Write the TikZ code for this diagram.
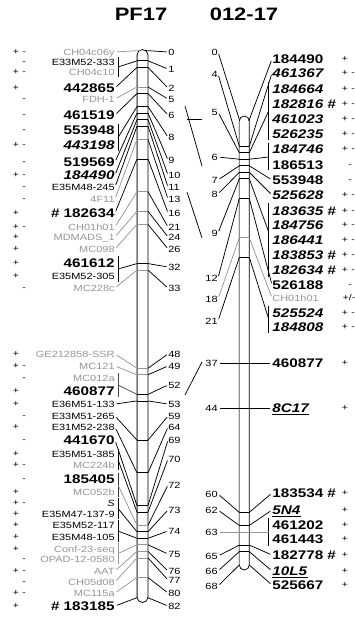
\documentclass[tikz,border=0pt]{standalone}
\usepackage{fontspec}
\setmainfont[FakeStretch=1.22]{Liberation Sans}
\definecolor{mg}{RGB}{150,150,150}
\begin{document}
\begin{tikzpicture}[x=1pt,y=-1pt,line width=0.75pt,
 bl/.style={inner sep=0pt,text height=9pt,text depth=0pt,font=\fontsize{12.5}{13}\selectfont\bfseries},
 bli/.style={bl,font=\fontsize{12.5}{13}\selectfont\bfseries\itshape},
 rl/.style={inner sep=0pt,text height=6.5pt,text depth=0pt,font=\fontsize{9}{10}\selectfont},
 rli/.style={rl,font=\fontsize{9}{10}\selectfont\itshape},
 gl/.style={rl,text=mg},
 num/.style={rl},
 sg/.style={inner sep=0pt,text height=5pt,text depth=0pt,font=\fontsize{8.5}{9}\selectfont},
 ttl/.style={inner sep=0pt,font=\fontsize{18}{20}\selectfont\bfseries},
 ul/.style={line width=1pt}
]
\useasboundingbox (0,0) rectangle (355,617);

% titles
\node[ttl] (tA) at (141,14) {PF17};
\node[ttl] (tB) at (244,14) {012-17};

% ---------------- PF17 bar ----------------
\draw[fill=white] (137,55) arc[start angle=180,end angle=360,radius=5.5] -- (148,597) arc[start angle=0,end angle=180,radius=5.5] -- cycle;
\draw[black!55,line width=1pt] (137,55) -- (137,597);

\foreach \c in {1,2,5,6,8,9,10,11,13,16,21,24,26,32,33,48,49,52,53,59,64,69,70,72,73,74,75,76,77,80}{
  \coordinate (aL\c) at (137,{54.3+6.54*\c});
  \coordinate (aR\c) at (148,{54.3+6.54*\c});
}
\coordinate (aL0) at (140,50.5); \coordinate (aR0) at (145,50.5);
\coordinate (aL82) at (137.5,597.5); \coordinate (aR82) at (147.5,597.5);

\foreach \c in {1,2,6,8,9,10,11,16,32,52,53,59,64,69,70,73,74} \draw (aL\c) -- (aR\c);
\foreach \c in {5,13,21,24,26,33,48,49,72,75,76,77,80} \draw[mg] (aL\c) -- (aR\c);

% left labels
\foreach \y/\t/\st [count=\i] in {52/CH04c06y/gl, 62/E33M52-333/rl, 72/CH04c10/gl, 88/442865/bl, 99/FDH-1/gl,
  115/461519/bl, 130/553948/bl, 145/443198/bli, 162/519569/bl, 175/184490/bli, 187/E35M48-245/rl, 199/4F11/gl,
  213/\# 182634/bl, 227/CH01h01/gl, 237/MDMADS\_1/gl, 249/MC098/gl, 263/461612/bl, 276/E35M52-305/rl, 288/MC228c/gl,
  354/GE212858-SSR/gl, 366/MC121/gl, 378/MC012a/gl, 391/460877/bl, 404/E36M51-133/rl, 416/E33M51-265/rl,
  427/E31M52-238/rl, 440/441670/bl, 454/E35M51-385/rl, 465/MC224b/gl, 479/185405/bl, 492/MC052b/gl, 503/S/rli,
  514/E35M47-137-9/rl, 525/E35M52-117/rl, 537/E35M48-105/rl, 549/Conf-23-seq/gl, 559/OPAD-12-0580/gl,
  571/AAT/gl, 582/CH05d08/gl, 593/MC115a/gl, 606/\# 183185/bl}
  \node[\st,anchor=east] (pl\i) at (115,\y) {\t};

% left leaders
\foreach \i/\c in {4/2,6/6,9/9,10/10,11/11,13/16,24/53,25/59,26/64,27/69,41/82}
  \draw[shorten <=2pt] (pl\i.east) -- (aL\c);
\foreach \i/\c in {1/0,5/5,12/13,14/21,15/24,16/26,19/33,20/48,21/49,38/76,39/77,40/80}
  \draw[mg,shorten <=2pt] (pl\i.east) -- (aL\c);

% left brackets
\foreach \k/\ya/\yb/\c/\bc/\lc in {1/57/77/1/black/black, 2/124/151/8/black/black, 3/256/282/32/black/black,
  4/373/397/52/black!70/black!70, 5/449/470/70/black/black, 6/473/497/72/black!80/mg, 7/498/519/73/black/black,
  8/520/542/74/black/black, 9/543/564/75/mg/mg}{
  \coordinate (kt\k) at (118,\ya);
  \coordinate (kb\k) at (118,\yb);
  \coordinate (km\k) at (118,{(\ya+\yb)/2});
  \draw[\bc] (kt\k) -- (kb\k);
  \draw[\lc] (km\k) -- (aL\c);
}

% right numbers PF17
\foreach \c/\y in {0/52,1/69,2/88,5/99,6/115,8/137,9/160,10/175,11/187,13/199,16/213,21/227,24/237,26/249,
  32/267,33/288,48/354,49/366,52/385,53/404,59/416,64/427,69/440,70/459,72/485,73/510,74/531,75/554,
  76/571,77/580,80/593,82/606}{
  \node[num,anchor=west] (pn\c) at (168,\y) {\c};
  \draw[shorten >=1.5pt] (aR\c) -- (pn\c.west);
}

% left signs
\foreach \y [count=\i] in {52,72,88,145,175,213,227,237,249,263,276,354,366,391,404,427,454,465,492,503,514,525,537,549,571,593,606}
  \node[sg] (spL\i) at (16,\y) {+};
\foreach \y [count=\i] in {52,62,72,99,115,130,145,162,175,187,199,227,288,366,378,416,440,465,479,503,559,571,582,593}
  \node[sg] (smL\i) at (24,\y) {-};

% ---------------- 012-17 bar ----------------
\draw[fill=white] (239.3,121) arc[start angle=180,end angle=360,radius=5] -- (249.3,565) arc[start angle=0,end angle=180,radius=5] -- cycle;
\draw[black!45,line width=1.4pt] (239.3,121) -- (239.3,565);

\foreach \c in {4,5,6,7,8,9,12,18,21,37,44,60,62,63,65,66}{
  \coordinate (bL\c) at (239.3,{120+6.54*\c});
  \coordinate (bR\c) at (249.3,{120+6.54*\c});
}
\coordinate (bL0) at (239.8,121); \coordinate (bR0) at (248.8,121);
\coordinate (bL68) at (239.3,565); \coordinate (bR68) at (249.3,565);

\foreach \c in {4,5,6,7,8,9,12,21,60,62,65,66} \draw (bL\c) -- (bR\c);
\draw[mg] (bL18) -- (bR18);

% left numbers 012-17
\foreach \c/\y in {0/52,4/74,5/112,6/157,7/180,8/194,9/233,12/278,18/299,21/321,37/363,44/408,60/494,62/510,63/532,65/556,66/571,68/586}
  \node[num,anchor=east] (qn\c) at (218,\y) {\c};
\foreach \c in {0,4,5,6,7,8,9,12,21,60,62,65,66,68}
  \draw[shorten <=2pt] (qn\c.east) -- (bL\c);
\draw[mg,shorten <=2pt] (qn18.east) -- (bL18);

% right labels 012-17
\foreach \y/\t/\st [count=\i] in {59/184490/bl, 73/461367/bli, 89/184664/bli, 104/182816 \#/bli, 119/461023/bli,
  134/526235/bli, 149/184746/bli, 165/186513/bl, 180/553948/bl, 195/525628/bli, 211/183635 \#/bli,
  225/184756/bli, 240/186441/bli, 255/183853 \#/bli, 270/182634 \#/bli, 285/526188/bl, 298/CH01h01/gl,
  313/525524/bli, 327/184808/bli, 363/460877/bl, 408/8C17/bli, 493/183534 \#/bl, 510/5N4/bli,
  525/461202/bl, 539/461443/bl, 555/182778 \#/bl, 571/10L5/bli, 585/525667/bl}
  \node[\st,anchor=west] (ql\i) at (272,\y) {\t};

\foreach \n in {21,23,27}
  \draw[ul] ([yshift=-2pt]ql\n.south west) -- ([yshift=-2pt]ql\n.south east);

% right leaders
\foreach \i/\c in {1/0,2/4,9/7,10/8,16/12,22/60,23/62,26/65,27/66,28/68}
  \draw[shorten >=2pt] (bR\c) -- (ql\i.west);
\draw[mg,shorten >=2pt] (bR18) -- (ql17.west);

% right brackets
\foreach \k/\ya/\yb/\ym/\c in {A/82/140/111/5, B/143/170/157/6, C/203/277/232/9, D/306/333/319/21}{
  \coordinate (rt\k) at (268.7,\ya);
  \coordinate (rb\k) at (268.7,\yb);
  \coordinate (rc\k) at (268.7,\ym);
  \draw (rt\k) -- (rb\k);
  \draw (bR\c) -- (rc\k);
}
\coordinate (rtE) at (268.7,518); \coordinate (rbE) at (268.7,546); \coordinate (rcE) at (268.7,532);
\draw (rtE) -- (rbE);
\draw[mg,shorten <=2pt] (qn63.east) -- (rcE);

% through lines
\draw[shorten <=2pt,shorten >=2pt] (qn37.east) -- (ql20.west);
\draw[shorten <=2pt,shorten >=2pt] (qn44.east) -- (ql21.west);

% right signs
\foreach \y [count=\i] in {59,73,89,104,119,134,149,195,211,225,240,255,270,313,327,363,408,493,510,525,539,555,571,585}
  \node[sg] (spR\i) at (345,\y) {+};
\foreach \y [count=\i] in {73,89,104,119,134,149,195,211,225,240,255,270,313,327}
  \node[sg] (smR\i) at (353,\y) {-};
\foreach \y [count=\i] in {165,180,285}
  \node[sg] (soR\i) at (350,\y) {-};
\node[sg] (pmR) at (349,298) {+/-};

% lines between the maps
\coordinate (x1) at (185,106); \coordinate (x2) at (202,166);
\coordinate (x3) at (187,119.3); \coordinate (x4) at (202,119.3);
\coordinate (x5) at (187,192); \coordinate (x6) at (202,238);
\coordinate (x7) at (202,362); \coordinate (x8) at (185,395);
\draw (x1) -- (x2);
\draw (x3) -- (x4);
\draw (x5) -- (x6);
\draw (x7) -- (x8);
\end{tikzpicture}
\end{document}
